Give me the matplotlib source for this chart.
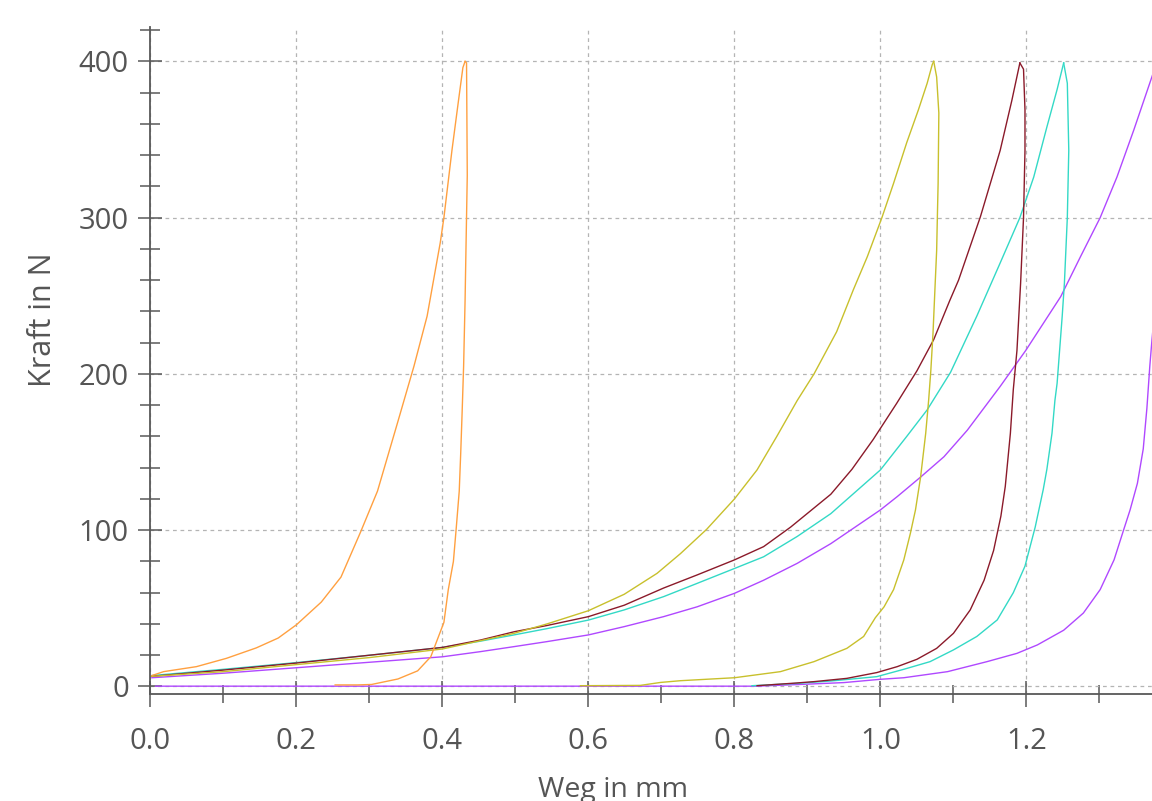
import numpy as np
import matplotlib.pyplot as plt
from matplotlib.ticker import MultipleLocator

plt.rcParams['font.family'] = ['Open Sans', 'DejaVu Sans']

# Kraft-Weg-Kurven, je Probe Belastung (hin) und Entlastung (rueck)
p1_hin_weg = [0.002, 0.018, 0.063, 0.104, 0.145, 0.175, 0.2, 0.234, 0.261, 0.288, 0.311,
              0.338, 0.361, 0.379, 0.397, 0.402, 0.413, 0.422, 0.428, 0.431]
p1_hin_kraft = [7, 9.5, 12.7, 18, 24.7, 31, 39.5, 54, 70, 99, 125,
                168, 205, 237, 284, 300, 343, 375, 396, 400]
p1_rueck_weg = [0.431, 0.433, 0.434, 0.432, 0.431, 0.429, 0.427, 0.425, 0.423, 0.419, 0.415,
                0.408, 0.402, 0.393, 0.384, 0.366, 0.339, 0.303, 0.284, 0.253]
p1_rueck_kraft = [400, 399, 327, 274, 247, 205, 176, 149, 125, 102, 80,
                  62, 41, 30, 19, 10, 4.8, 1.3, 1.0, 1.0]

p2_hin_weg = [0.002, 0.1, 0.2, 0.3, 0.4, 0.452, 0.498, 0.543, 0.6, 0.649, 0.694, 0.726,
              0.762, 0.8, 0.831, 0.858, 0.886, 0.909, 0.94, 0.963, 0.982, 1.002, 1.018,
              1.036, 1.052, 1.064, 1.071, 1.073]
p2_hin_kraft = [6.5, 9.5, 14, 18.5, 24, 29.3, 34, 40, 48.5, 59, 72.4, 85,
                100.6, 120, 138.6, 160, 183, 200, 227, 254, 275, 300, 322,
                348, 369, 386, 398, 400]
p2_rueck_weg = [1.073, 1.077, 1.080, 1.079, 1.078, 1.077, 1.075, 1.072, 1.069, 1.066, 1.062,
                1.055, 1.048, 1.041, 1.032, 1.018, 1.005, 0.993, 0.977, 0.954, 0.909, 0.863,
                0.8, 0.726, 0.699, 0.671, 0.589]
p2_rueck_kraft = [400, 390, 367, 322, 301, 279, 258, 226, 202, 183, 162,
                  134, 113, 98, 81, 62, 51, 44, 32, 24.4, 15.9, 9.5,
                  5.6, 3.7, 2.6, 0.7, 0.5]

p3_hin_weg = [0.002, 0.1, 0.2, 0.3, 0.4, 0.452, 0.498, 0.543, 0.6, 0.649, 0.703, 0.749,
              0.8, 0.84, 0.877, 0.932, 0.961, 0.99, 1.022, 1.05, 1.073, 1.095,
              1.107, 1.137, 1.164, 1.18, 1.191]
p3_hin_kraft = [6.5, 10.5, 15, 20, 25, 29.7, 35, 39, 44.7, 52, 63, 71.4,
                81, 89.5, 102, 123, 139, 158, 181, 202, 222, 247,
                260, 300.7, 343, 375, 399]
p3_rueck_weg = [1.191, 1.196, 1.198, 1.198, 1.196, 1.192, 1.187, 1.182, 1.178, 1.171, 1.165,
                1.155, 1.142, 1.123, 1.1, 1.077, 1.05, 1.023, 0.995, 0.954, 0.909, 0.881, 0.831]
p3_rueck_kraft = [399, 395, 369, 343, 300, 258, 215, 190, 162, 128, 109,
                  87, 68, 49, 34, 24.4, 17.4, 12.7, 8.9, 5.2, 3.1, 2.1, 0.5]

p4_hin_weg = [0.002, 0.1, 0.2, 0.3, 0.4, 0.452, 0.498, 0.543, 0.6, 0.649, 0.703, 0.749,
              0.8, 0.84, 0.886, 0.932, 1.0, 1.036, 1.064, 1.096, 1.132, 1.164, 1.191,
              1.21, 1.228, 1.242, 1.251]
p4_hin_kraft = [7, 11, 15.3, 20, 25, 29, 33, 37, 42.5, 49, 57.5, 66,
                75.5, 83, 96, 110.6, 138.6, 160, 177, 201, 237, 271, 300,
                326, 358, 382, 399]
p4_rueck_weg = [1.251, 1.256, 1.258, 1.256, 1.252, 1.249, 1.242, 1.239, 1.235, 1.228, 1.223,
                1.212, 1.198, 1.182, 1.16, 1.132, 1.1, 1.068, 1.032, 0.995, 0.932, 0.886, 0.824]
p4_rueck_kraft = [399, 386, 343, 300, 258, 237, 194, 183, 162, 139, 126,
                  102, 77, 60, 42.6, 32, 23.4, 15.9, 11, 6.3, 3.5, 2, 0.5]

p5_hin_weg = [0.002, 0.1, 0.2, 0.3, 0.4, 0.452, 0.498, 0.543, 0.6, 0.649, 0.703, 0.749,
              0.8, 0.84, 0.886, 0.932, 1.0, 1.023, 1.055, 1.087, 1.119, 1.164,
              1.199, 1.247, 1.274, 1.301, 1.324, 1.347, 1.374]
p5_hin_kraft = [5.6, 8.5, 12, 15.5, 19, 22.3, 25.5, 28.7, 33, 38.3, 44.7, 51,
                59.6, 68, 78.8, 91.4, 113, 121.5, 134, 147, 164, 192,
                215, 249.5, 275, 300, 326, 356, 393]
p5_rueck_weg = [1.374, 1.372, 1.369, 1.365, 1.36, 1.352, 1.342, 1.333, 1.32, 1.301, 1.278,
                1.251, 1.215, 1.187, 1.146, 1.092, 1.032, 1.0, 0.95, 0.895, 0.83, 0.007]
p5_rueck_kraft = [232, 222, 205, 178, 152, 130, 113, 100, 81, 62, 47,
                  36, 26.6, 21.2, 15.9, 9.5, 5.6, 4.6, 2.5, 1.4, 0.2, 0.2]

fig = plt.figure(figsize=(11.52, 8.01), dpi=100)
ax = fig.add_axes([0.1306, 0.1336, 0.8694, 0.8327])

curves = [
    (p5_hin_weg, p5_hin_kraft, p5_rueck_weg, p5_rueck_kraft, '#b048ff'),
    (p4_hin_weg, p4_hin_kraft, p4_rueck_weg, p4_rueck_kraft, '#33d9c6'),
    (p3_hin_weg, p3_hin_kraft, p3_rueck_weg, p3_rueck_kraft, '#8b1a2a'),
    (p2_hin_weg, p2_hin_kraft, p2_rueck_weg, p2_rueck_kraft, '#c8c02c'),
    (p1_hin_weg, p1_hin_kraft, p1_rueck_weg, p1_rueck_kraft, '#ffa040'),
]
for hw, hk, rw, rk, col in curves:
    ax.plot(hw, hk, color=col, lw=1.0)
    ax.plot(rw, rk, color=col, lw=1.0)

ax.set_xlim(0, 1.372)
ax.set_ylim(-4.8, 422)

ax.xaxis.set_major_locator(MultipleLocator(0.2))
ax.xaxis.set_minor_locator(MultipleLocator(0.1))
ax.yaxis.set_major_locator(MultipleLocator(100))
ax.yaxis.set_minor_locator(MultipleLocator(20))
ax.xaxis.set_major_formatter(lambda v, p: f'{v:.1f}')

ax.grid(True, which='major', color='#b4b4b4', linestyle=(0, (3, 3)), linewidth=0.9)
ax.set_axisbelow(True)

for s in ['top', 'right']:
    ax.spines[s].set_visible(False)
for s in ['left', 'bottom']:
    ax.spines[s].set_color('#585858')
    ax.spines[s].set_linewidth(1.3)

txt = '#555555'
ax.tick_params(which='both', direction='inout', color='#585858', width=1.1,
               labelsize=21, labelcolor=txt)
ax.tick_params(axis='x', which='major', length=19, pad=14)
ax.tick_params(axis='x', which='minor', length=13)
ax.tick_params(axis='y', which='major', length=17, pad=7)
ax.tick_params(axis='y', which='minor', length=14)

ax.set_xlabel('Weg in mm', fontsize=20.5, color=txt)
ax.set_ylabel('Kraft in N', fontsize=22, color=txt)
ax.xaxis.set_label_coords(0.462, -0.123)
ax.yaxis.set_label_coords(-0.092, 0.561)

fig.savefig('out.png', dpi=100)
